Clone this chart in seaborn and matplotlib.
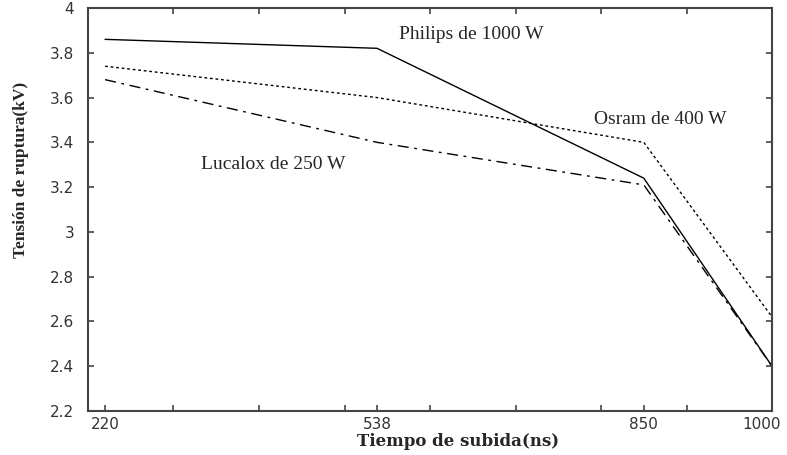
import matplotlib
matplotlib.use("Agg")
import matplotlib.pyplot as plt
import matplotlib.transforms as mtransforms
import seaborn as sns
import pandas as pd
from matplotlib.ticker import FixedLocator, FuncFormatter

# Data
tiempos = [220, 538, 850, 1000]
philips = [3.86, 3.82, 3.24, 2.40]
osram = [3.74, 3.60, 3.40, 2.62]
lucalox = [3.68, 3.40, 3.21, 2.40]
series_names = ["Philips de 1000 W", "Osram de 400 W", "Lucalox de 250 W"]
x_major = [220, 538, 850, 1000]
x_minor = [300, 400, 500, 600, 700, 800, 900]
y_ticks = [2.2, 2.4, 2.6, 2.8, 3.0, 3.2, 3.4, 3.6, 3.8, 4.0]

rows = []
for name, vals in zip(series_names, [philips, osram, lucalox]):
    for t, v in zip(tiempos, vals):
        rows.append({"t": t, "v": v, "lamp": name})
df = pd.DataFrame(rows)

sns.set_style("white")
fig = plt.figure(figsize=(7.87, 4.55), dpi=100)
ax = fig.add_axes([0.1118, 0.0967, 0.981 - 0.1118, 0.9824 - 0.0967])

sns.lineplot(data=df, x="t", y="v", style="lamp", color="black",
             dashes={"Philips de 1000 W": "", "Osram de 400 W": (2, 2),
                     "Lucalox de 250 W": (8, 4, 2, 4)},
             linewidth=1.0, legend=False, ax=ax)

ax.set_xlim(200, 1000)
ax.set_ylim(2.2, 4.0)
ax.xaxis.set_major_locator(FixedLocator(x_major))
ax.xaxis.set_minor_locator(FixedLocator(x_minor))
ax.yaxis.set_major_locator(FixedLocator(y_ticks))
ax.yaxis.set_major_formatter(FuncFormatter(lambda v, p: f"{v:g}"))

for s in ax.spines.values():
    s.set_color("#444444")
    s.set_linewidth(1.5)

ax.tick_params(axis="both", which="both", direction="in", color="#444444",
               width=1.2, length=4, labelsize=11, labelcolor="#333333")
ax.tick_params(axis="x", which="major", top=False, bottom=True, pad=4)
ax.tick_params(axis="x", which="minor", top=True, bottom=True)
ax.tick_params(axis="y", which="major", left=True, right=True, pad=10)

# shift the last x tick label ("1000") left so it stays inside the figure
fig.canvas.draw()
lbls = ax.get_xticklabels()
off = mtransforms.ScaledTranslation(-0.10, 0, fig.dpi_scale_trans)
lbls[-1].set_transform(lbls[-1].get_transform() + off)

ax.set_xlabel("Tiempo de subida(ns)", family="DejaVu Serif",
              fontweight="bold", fontsize=12)
ax.xaxis.set_label_coords((458 - 88) / 684, -22 / 403)
ax.set_ylabel("Tensión de ruptura(kV)", family="Liberation Serif",
              fontweight="bold", fontsize=12.5)
ax.yaxis.set_label_coords((29 - 88) / 684, (411 - 170) / 403)

ax.text(564, 3.88, "Philips de 1000 W", family="Liberation Serif",
        fontsize=14, va="center", ha="left")
ax.text(792, 3.50, "Osram de 400 W", family="Liberation Serif",
        fontsize=14, va="center", ha="left")
ax.text(332, 3.30, "Lucalox de 250 W", family="Liberation Serif",
        fontsize=14, va="center", ha="left")

fig.savefig("out.png", dpi=100)
